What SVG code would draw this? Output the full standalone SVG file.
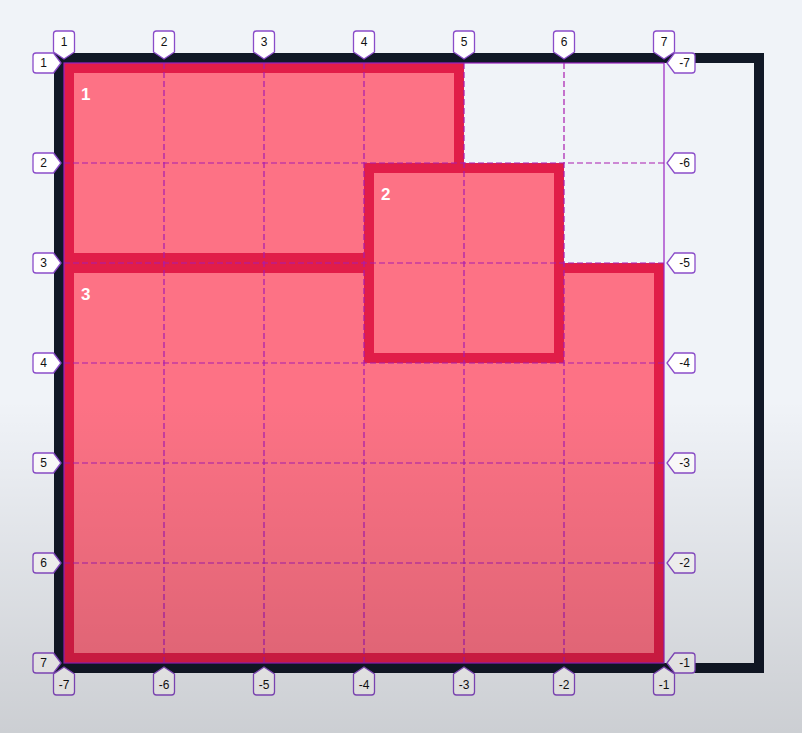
<svg xmlns="http://www.w3.org/2000/svg" width="802" height="733" viewBox="0 0 802 733">
<defs>
<linearGradient id="shade" gradientUnits="userSpaceOnUse" x1="0" y1="400" x2="0" y2="733">
<stop offset="0" stop-color="#000" stop-opacity="0"/>
<stop offset="1" stop-color="#000" stop-opacity="0.15"/>
</linearGradient>
<path id="lt" d="M-10.5,-25 Q-10.5,-28 -7.5,-28 H7.5 Q10.5,-28 10.5,-25 V-7 L0,0 L-10.5,-7 Z"/>
<path id="lb" d="M-10.5,7 L0,0 L10.5,7 V25 Q10.5,28 7.5,28 H-7.5 Q-10.5,28 -10.5,25 Z"/>
<path id="ll" d="M-7.5,-10 L0,0 L-7.5,10 H-25 Q-28,10 -28,7 V-7 Q-28,-10 -25,-10 Z"/>
<path id="lr" d="M7.5,-10 L0,0 L7.5,10 H25 Q28,10 28,7 V-7 Q28,-10 25,-10 Z"/>
</defs>
<style>
.reg{fill:#fd7285;stroke:#e11d48;stroke-width:10}
.rnum{font-family:"Liberation Sans",Arial,sans-serif;font-weight:bold;font-size:17px;fill:#ffffff}
.grid line{stroke:#a81cb0;stroke-width:1.2;stroke-dasharray:6 3}
.tag use{fill:#ffffff;stroke:#8a4cc9;stroke-width:1.3;stroke-linejoin:round}
.tag text{font-family:"Liberation Sans",Arial,sans-serif;font-size:12px;fill:#111;text-anchor:middle}
</style>
<rect x="0" y="0" width="802" height="733" fill="#f0f3f8"/>
<rect id="frame" x="59" y="58" width="700" height="610" fill="none" stroke="#111827" stroke-width="10"/>
<g id="region-1"><rect class="reg" x="69" y="68" width="390" height="190"/><text class="rnum" x="81" y="100">1</text></g>
<g id="region-3"><rect class="reg" x="69" y="268" width="590" height="390"/><text class="rnum" x="81" y="300">3</text></g>
<g id="region-2"><rect class="reg" x="369" y="168" width="190" height="190"/><text class="rnum" x="381" y="200">2</text></g>
<g class="grid" id="connectors">
<line x1="164" y1="63" x2="164" y2="663"/>
<line x1="264" y1="63" x2="264" y2="663"/>
<line x1="364" y1="63" x2="364" y2="663"/>
<line x1="464" y1="63" x2="464" y2="663"/>
<line x1="564" y1="63" x2="564" y2="663"/>
<line x1="64" y1="163" x2="664" y2="163"/>
<line x1="64" y1="263" x2="664" y2="263"/>
<line x1="64" y1="363" x2="664" y2="363"/>
<line x1="64" y1="463" x2="664" y2="463"/>
<line x1="64" y1="563" x2="664" y2="563"/>
<rect x="64" y="63" width="600" height="600" fill="none" stroke="#9a22c4" stroke-width="1.2"/>
</g>
<g class="tag" id="top-labels">
<g transform="translate(64,59)"><use href="#lt"/><text y="-13.5">1</text></g>
<g transform="translate(164,59)"><use href="#lt"/><text y="-13.5">2</text></g>
<g transform="translate(264,59)"><use href="#lt"/><text y="-13.5">3</text></g>
<g transform="translate(364,59)"><use href="#lt"/><text y="-13.5">4</text></g>
<g transform="translate(464,59)"><use href="#lt"/><text y="-13.5">5</text></g>
<g transform="translate(564,59)"><use href="#lt"/><text y="-13.5">6</text></g>
<g transform="translate(664,59)"><use href="#lt"/><text y="-13.5">7</text></g>
</g>
<g class="tag" id="left-labels">
<g transform="translate(61,63)"><use href="#ll"/><text x="-17.5" y="4.3">1</text></g>
<g transform="translate(61,163)"><use href="#ll"/><text x="-17.5" y="4.3">2</text></g>
<g transform="translate(61,263)"><use href="#ll"/><text x="-17.5" y="4.3">3</text></g>
<g transform="translate(61,363)"><use href="#ll"/><text x="-17.5" y="4.3">4</text></g>
<g transform="translate(61,463)"><use href="#ll"/><text x="-17.5" y="4.3">5</text></g>
<g transform="translate(61,563)"><use href="#ll"/><text x="-17.5" y="4.3">6</text></g>
<g transform="translate(61,663)"><use href="#ll"/><text x="-17.5" y="4.3">7</text></g>
</g>
<g class="tag" id="right-labels">
<g transform="translate(667,63)"><use href="#lr"/><text x="17.5" y="4.3">-7</text></g>
<g transform="translate(667,163)"><use href="#lr"/><text x="17.5" y="4.3">-6</text></g>
<g transform="translate(667,263)"><use href="#lr"/><text x="17.5" y="4.3">-5</text></g>
<g transform="translate(667,363)"><use href="#lr"/><text x="17.5" y="4.3">-4</text></g>
<g transform="translate(667,463)"><use href="#lr"/><text x="17.5" y="4.3">-3</text></g>
<g transform="translate(667,563)"><use href="#lr"/><text x="17.5" y="4.3">-2</text></g>
<g transform="translate(667,663)"><use href="#lr"/><text x="17.5" y="4.3">-1</text></g>
</g>
<g class="tag" id="bottom-labels">
<g transform="translate(64,667)"><use href="#lb"/><text y="21.8">-7</text></g>
<g transform="translate(164,667)"><use href="#lb"/><text y="21.8">-6</text></g>
<g transform="translate(264,667)"><use href="#lb"/><text y="21.8">-5</text></g>
<g transform="translate(364,667)"><use href="#lb"/><text y="21.8">-4</text></g>
<g transform="translate(464,667)"><use href="#lb"/><text y="21.8">-3</text></g>
<g transform="translate(564,667)"><use href="#lb"/><text y="21.8">-2</text></g>
<g transform="translate(664,667)"><use href="#lb"/><text y="21.8">-1</text></g>
</g>
<rect x="0" y="400" width="802" height="333" fill="url(#shade)" pointer-events="none"/>
</svg>
